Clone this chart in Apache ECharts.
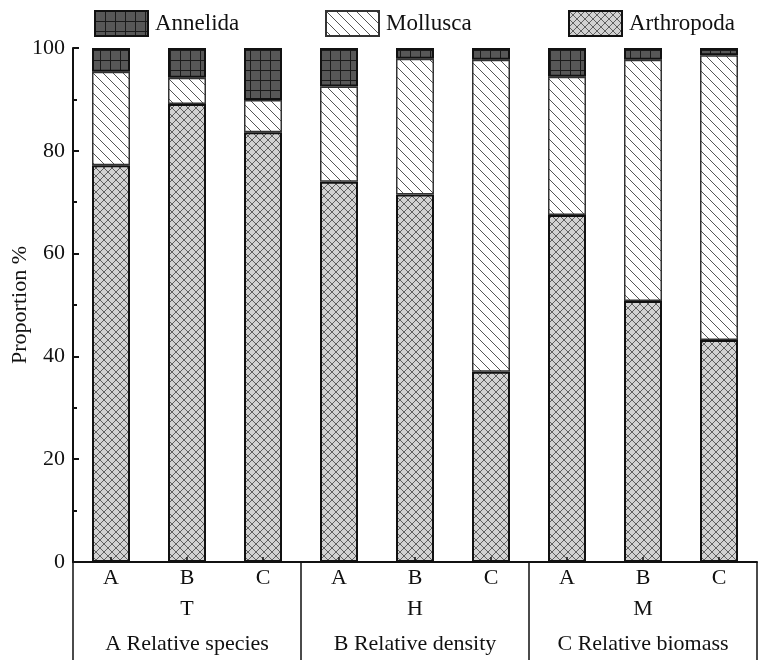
<!DOCTYPE html>
<html>
<head>
<meta charset="utf-8">
<script src="https://cdn.jsdelivr.net/npm/echarts@6/dist/echarts.min.js"></script>
<style>
html,body{margin:0;padding:0;background:#fff;}
#chart{width:760px;height:660px;}
</style>
</head>
<body>
<div id="chart"></div>
<script>
// ---- data ----
const categories = ['A','B','C','A','B','C','A','B','C'];
const groups = ['T', 'H', 'M'];
const groupNames = ['A Relative species', 'B Relative density', 'C Relative biomass'];
const seriesNames = ['Annelida', 'Mollusca', 'Arthropoda'];
const arthropoda = [77.2, 89.1, 83.6, 74.0, 71.5, 37.0, 67.5, 50.8, 43.2];
const mollusca   = [18.2, 5.1, 6.3, 18.5, 26.4, 60.7, 26.9, 46.9, 55.4];
const annelida   = [4.6, 5.8, 10.1, 7.5, 2.1, 2.3, 5.6, 2.3, 1.4];
const yTicks = [0, 20, 40, 60, 80, 100];

const FONT = "'Liberation Serif','Times New Roman',serif";

// ---- patterns ----
function gridPattern() {
  const c = document.createElement('canvas');
  c.width = 10; c.height = 10;
  const g = c.getContext('2d');
  g.fillStyle = '#575757'; g.fillRect(0, 0, 10, 10);
  g.strokeStyle = '#1a1a1a'; g.lineWidth = 1;
  g.beginPath();
  g.moveTo(0.5, 0); g.lineTo(0.5, 10);
  g.moveTo(0, 0.5); g.lineTo(10, 0.5);
  g.stroke();
  return c;
}
function diagPattern() {
  const s = 10;
  const c = document.createElement('canvas');
  c.width = s; c.height = s;
  const g = c.getContext('2d');
  g.fillStyle = '#ffffff'; g.fillRect(0, 0, s, s);
  g.strokeStyle = '#555'; g.lineWidth = 1;
  g.beginPath();
  g.moveTo(-1, -1); g.lineTo(s + 1, s + 1);
  g.moveTo(-1, s - 1); g.lineTo(1, s + 1);
  g.moveTo(s - 1, -1); g.lineTo(s + 1, 1);
  g.stroke();
  return c;
}
function crossPattern() {
  const s = 8;
  const c = document.createElement('canvas');
  c.width = s; c.height = s;
  const g = c.getContext('2d');
  g.fillStyle = '#d2d2d2'; g.fillRect(0, 0, s, s);
  g.strokeStyle = '#606060'; g.lineWidth = 1;
  g.beginPath();
  g.moveTo(-1, -1); g.lineTo(s + 1, s + 1);
  g.moveTo(-1, s + 1); g.lineTo(s + 1, -1);
  g.moveTo(-1, s - 1); g.lineTo(1, s + 1);
  g.moveTo(s - 1, -1); g.lineTo(s + 1, 1);
  g.moveTo(-1, 1); g.lineTo(1, -1);
  g.moveTo(s - 1, s + 1); g.lineTo(s + 1, s - 1);
  g.stroke();
  return c;
}

const styles = {
  Annelida:   { color: { image: gridPattern(), repeat: 'repeat' }, borderColor: '#111', borderWidth: 2 },
  Mollusca:   { color: { image: diagPattern(), repeat: 'repeat' }, borderColor: '#333', borderWidth: 1.5 },
  Arthropoda: { color: { image: crossPattern(), repeat: 'repeat' }, borderColor: '#111', borderWidth: 2 }
};
const values = { Annelida: annelida, Mollusca: mollusca, Arthropoda: arthropoda };

const chart = echarts.init(document.getElementById('chart'), null, { renderer: 'canvas' });

const legendLefts = [94, 325, 568];
const legends = seriesNames.map((n, i) => ({
  data: [n],
  left: legendLefts[i],
  top: 10,
  padding: 0,
  itemWidth: 53,
  itemHeight: 25,
  itemGap: 0,
  icon: 'rect',
  textStyle: { fontFamily: FONT, fontSize: 23, color: '#111', padding: [0, 0, 0, 2] },
  selectedMode: false
}));

const stackOrder = ['Arthropoda', 'Mollusca', 'Annelida'];
const series = stackOrder.map(n => ({
  name: n,
  type: 'bar',
  stack: 'total',
  barWidth: '50%',
  xAxisIndex: 0,
  data: values[n],
  itemStyle: styles[n],
  emphasis: { disabled: true },
  animation: false
}));

const option = {
  backgroundColor: '#fff',
  animation: false,
  legend: legends,
  grid: { left: 73, right: 3, top: 48, bottom: 98, containLabel: false, outerBoundsMode: 'none' },
  xAxis: [
    {
      type: 'category',
      data: categories,
      position: 'bottom',
      z: 5,
      axisLine: { show: true, lineStyle: { color: '#111', width: 2 } },
      axisTick: { show: true, inside: true, length: 5, alignWithLabel: true, lineStyle: { color: '#111', width: 1.5 } },
      axisLabel: { fontFamily: FONT, fontSize: 22, color: '#111', margin: 5 },
      splitLine: { show: false }
    },
    {
      type: 'category',
      data: groups,
      position: 'bottom',
      offset: 0,
      axisLine: { show: false },
      axisTick: { show: true, inside: false, length: 100, lineStyle: { color: '#111', width: 1.5 } },
      axisLabel: {
        margin: 30,
        formatter: function (v, idx) { return '{a|' + v + '}\n{b|' + groupNames[idx] + '}'; },
        rich: {
          a: { fontFamily: FONT, fontSize: 22, color: '#111', lineHeight: 35 },
          b: { fontFamily: FONT, fontSize: 22, color: '#111', lineHeight: 35 }
        }
      },
      splitLine: { show: false }
    }
  ],
  yAxis: {
    type: 'value',
    min: yTicks[0],
    max: yTicks[yTicks.length - 1],
    interval: 20,
    z: 5,
    name: 'Proportion %',
    nameLocation: 'middle',
    nameGap: 42,
    nameRotate: 90,
    nameMoveOverlap: false,
    nameTextStyle: { fontFamily: FONT, fontSize: 22, color: '#111' },
    axisLine: { show: true, lineStyle: { color: '#111', width: 2 } },
    axisTick: { show: true, inside: true, length: 6, lineStyle: { color: '#111', width: 2 } },
    minorTick: { show: true, splitNumber: 2, length: 4, lineStyle: { color: '#111', width: 2 } },
    axisLabel: { fontFamily: FONT, fontSize: 22, color: '#111', margin: 8 },
    splitLine: { show: false }
  },
  series: series
};
chart.setOption(option);
</script>
</body>
</html>
